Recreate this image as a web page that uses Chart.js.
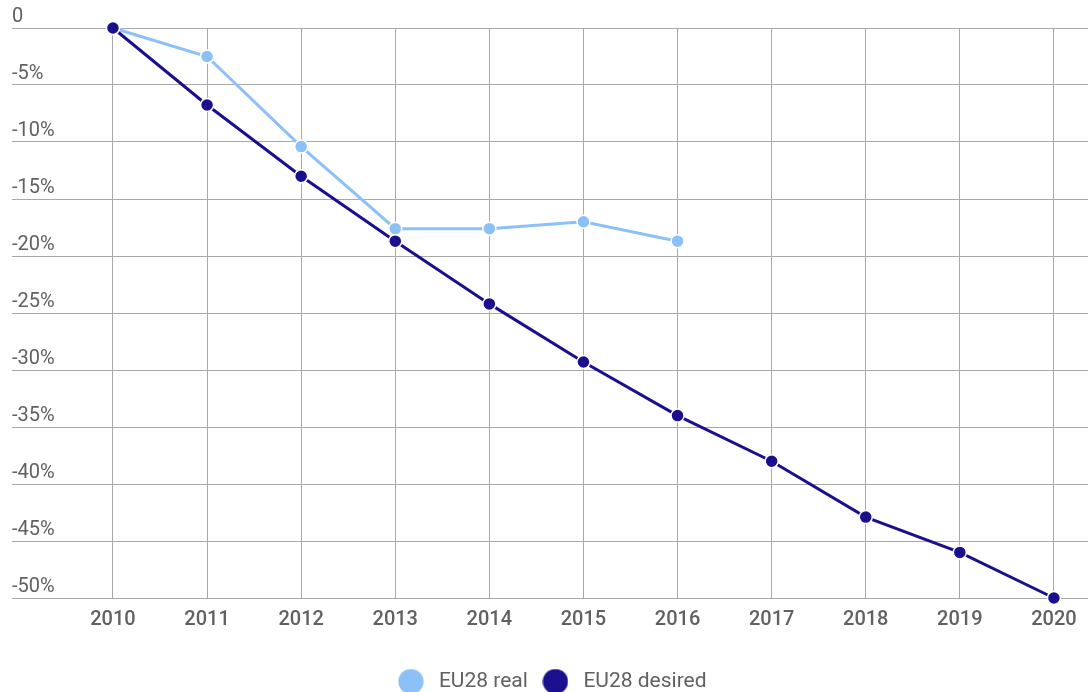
<!DOCTYPE html>
<html>
<head>
<meta charset="utf-8">
<script src="https://cdn.jsdelivr.net/npm/chart.js@4/dist/chart.umd.min.js"></script>
<style>
html,body{margin:0;padding:0;background:#fff;}
#wrap{width:1088px;height:692px;}
</style>
</head>
<body>
<div id="wrap"><canvas id="c" width="1088" height="692"></canvas></div>
<script>
const years = [2010, 2011, 2012, 2013, 2014, 2015, 2016, 2017, 2018, 2019, 2020];
const realValues = [0, -2.5, -10.4, -17.6, -17.6, -17.0, -18.7];
const desiredValues = [0, -6.75, -13.0, -18.7, -24.2, -29.3, -34.0, -38.0, -42.9, -46.0, -50.0];
const yTickValues = [0, -5, -10, -15, -20, -25, -30, -35, -40, -45, -50];
const seriesNames = ['EU28 real', 'EU28 desired'];

const realColor = '#8cc1f7';
const desiredColor = '#1a0f8c';
const textColor = '#616161';
const gridColor = '#a9a9a9';

const toPoints = vals => vals.map((v, i) => ({x: years[i], y: v}));

function legendDot(color) {
  const c = document.createElement('canvas');
  c.width = 26; c.height = 26;
  const g = c.getContext('2d');
  g.fillStyle = color;
  g.beginPath();
  g.arc(13, 13, 12.6, 0, Math.PI * 2);
  g.fill();
  return c;
}
const legendDots = [legendDot(realColor), legendDot(desiredColor)];

new Chart(document.getElementById('c'), {
  type: 'line',
  data: {
    datasets: [
      {
        label: seriesNames[0],
        data: toPoints(realValues),
        borderColor: realColor,
        backgroundColor: realColor,
        borderWidth: 3,
        pointRadius: 6.5,
        pointHoverRadius: 6.5,
        pointBackgroundColor: realColor,
        pointBorderColor: '#ffffff',
        pointBorderWidth: 1.5,
        tension: 0,
        clip: false,
        order: 1
      },
      {
        label: seriesNames[1],
        data: toPoints(desiredValues),
        borderColor: desiredColor,
        backgroundColor: desiredColor,
        borderWidth: 3,
        pointRadius: 6.5,
        pointHoverRadius: 6.5,
        pointBackgroundColor: desiredColor,
        pointBorderColor: '#ffffff',
        pointBorderWidth: 1.5,
        tension: 0,
        clip: false,
        order: 0
      }
    ]
  },
  options: {
    responsive: false,
    animation: false,
    devicePixelRatio: 1,
    layout: {autoPadding: false, padding: {top: 28, left: 12, right: 0, bottom: -10}},
    scales: {
      x: {
        type: 'linear',
        min: 2008.927,
        max: 2020.362,
        afterBuildTicks: scale => { scale.ticks = years.map(v => ({value: v})); },
        afterFit: scale => { scale.height += 19; scale.paddingLeft = 0; scale.paddingRight = 0; },
        grid: {color: gridColor, lineWidth: 1, drawTicks: false},
        border: {display: false},
        ticks: {
          padding: 10,
          color: textColor,
          font: {family: 'Roboto', size: 20, weight: '500'},
          callback: v => String(v),
          maxRotation: 0,
          autoSkip: false
        }
      },
      y: {
        min: -50,
        max: 0,
        afterBuildTicks: scale => { scale.ticks = yTickValues.map(v => ({value: v})); },
        grid: {color: gridColor, lineWidth: 1, drawTicks: false},
        border: {display: false},
        ticks: {
          mirror: true,
          padding: 0,
          labelOffset: -11,
          color: textColor,
          font: {family: 'Roboto', size: 20},
          callback: v => (v === 0 ? '0' : v + '%')
        }
      }
    },
    plugins: {
      legend: {
        position: 'bottom',
        labels: {
          usePointStyle: true,
          pointStyleWidth: 35,
          padding: 10,
          color: textColor,
          font: {family: 'Roboto', size: 21},
          sort: (a, b) => a.datasetIndex - b.datasetIndex,
          generateLabels: chart => {
            const items = Chart.defaults.plugins.legend.labels.generateLabels(chart);
            items.forEach(it => { it.pointStyle = legendDots[it.datasetIndex]; it.lineWidth = 0; });
            return items;
          }
        }
      },
      tooltip: {enabled: false}
    }
  }
});
</script>
</body>
</html>
